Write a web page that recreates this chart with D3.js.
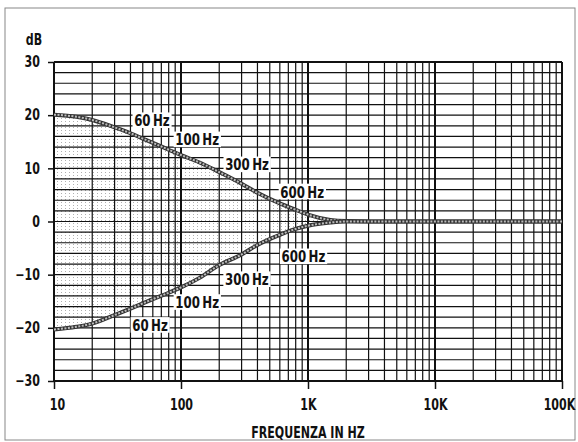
<!DOCTYPE html>
<html>
<head>
<meta charset="utf-8">
<script src="https://cdn.jsdelivr.net/npm/d3@7"></script>
<style>
  body { margin: 0; background: #fff; }
  svg { display: block; }
  text { font-family: "DejaVu Sans Condensed", "Liberation Sans Narrow", sans-serif; font-weight: bold; fill: #111; }
</style>
</head>
<body>
<svg id="chart" width="578" height="442"></svg>
<script>
// ---- data ----
const freqs = [10, 15, 20, 30, 40, 50, 60, 80, 100, 140, 200, 300, 400, 600, 800, 1000, 1500, 2000, 5000, 10000, 20000, 50000, 100000];
const boostDb = [20.1, 19.7, 19.1, 17.7, 16.6, 15.6, 14.8, 13.5, 12.5, 11.1, 9.3, 7.1, 5.4, 3.4, 2.2, 1.3, 0.3, 0.1, 0, 0, 0, 0, 0];
const cutDb = [-20.3, -19.8, -19.2, -17.6, -16.4, -15.4, -14.6, -13.4, -12.4, -10.6, -8.2, -6.2, -4.4, -2.5, -1.4, -0.8, -0.2, 0, 0, 0, 0, 0, 0];
const yTicks = [30, 20, 10, 0, -10, -20, -30];
const yTickLabels = ["30", "20", "10", "0", "\u221210", "\u221220", "\u221230"];
const xTicks = [10, 100, 1000, 10000, 100000];
const xTickLabels = ["10", "100", "1K", "10K", "100K"];
const noteText = ["60Hz", "100Hz", "300Hz", "600Hz", "600Hz", "300Hz", "100Hz", "60Hz"];
const noteFreq = [59, 134, 331, 900, 920, 330, 134, 57];
const noteDb = [19, 15.4, 10.7, 5.6, -6.6, -10.9, -15.2, -19.5];

// ---- chart ----
const svg = d3.select("#chart");
const x = d3.scaleLog().domain([10, 100000]).range([54, 562]);
const y = d3.scaleLinear().domain([-30, 30]).range([381, 62]);
const SX = 0.82; // horizontal squeeze to mimic the tall condensed lettering

// page border
svg.append("rect").attr("x", 5).attr("y", 8).attr("width", 570).attr("height", 432)
  .attr("fill", "none").attr("stroke", "#888").attr("stroke-width", 1);

// stipple pattern
const defs = svg.append("defs");
const pat = defs.append("pattern").attr("id", "dots").attr("patternUnits", "userSpaceOnUse")
  .attr("width", 4).attr("height", 3);
pat.append("rect").attr("x", 1).attr("y", 1).attr("width", 1).attr("height", 1).attr("fill", "#b0b0b0");

// stippled area between curves
const pts = freqs.map((f, i) => ({ f, hi: boostDb[i], lo: cutDb[i] }));
const area = d3.area().x(d => x(d.f)).y0(d => y(d.lo)).y1(d => y(d.hi)).curve(d3.curveMonotoneX);
svg.append("path").datum(pts.filter(d => d.f <= 2000)).attr("d", area).attr("fill", "url(#dots)");

// grid
const minor = [];
for (let dec = 10; dec < 100000; dec *= 10) for (let m = 1; m < 10; m++) minor.push(dec * m);
minor.push(100000);
svg.append("g").selectAll("line").data(minor).join("line")
  .attr("x1", d => x(d)).attr("x2", d => x(d)).attr("y1", y(30)).attr("y2", y(-30))
  .attr("stroke", "#111").attr("stroke-width", d => xTicks.includes(d) ? 2 : 1.2);
svg.append("g").selectAll("line").data(d3.range(-30, 31, 2)).join("line")
  .attr("x1", x(10)).attr("x2", x(100000)).attr("y1", d => y(d)).attr("y2", d => y(d))
  .attr("stroke", "#111").attr("stroke-width", d => (d === 30 || d === -30) ? 2 : 1.2);

// axes
const yAxis = svg.append("g").attr("transform", `translate(${x(10)},0)`)
  .call(d3.axisLeft(y).tickValues(yTicks).tickSize(6).tickPadding(0).tickFormat((d, i) => yTickLabels[i]));
yAxis.select(".domain").remove();
yAxis.selectAll("line").attr("stroke", "#111").attr("stroke-width", 1.5);
yAxis.selectAll("text").attr("font-size", 15).attr("fill", "#111").attr("x", null)
  .attr("transform", `translate(-14,0) scale(${SX},1)`)
  .style("font-family", '"DejaVu Sans Condensed", sans-serif').style("font-weight", "bold");

const xAxis = svg.append("g").attr("transform", `translate(0,${y(-30)})`)
  .call(d3.axisBottom(x).tickValues(xTicks).tickSize(8).tickPadding(10).tickFormat((d, i) => xTickLabels[i]));
xAxis.select(".domain").remove();
xAxis.selectAll("line").attr("stroke", "#111").attr("stroke-width", 1.5);
xAxis.selectAll("text").attr("font-size", 15).attr("fill", "#111")
  .attr("transform", (d, i) => `translate(${i === 0 ? 3 : (i === 4 ? -3 : 0)},0) scale(${SX},1)`)
  .style("font-family", '"DejaVu Sans Condensed", sans-serif').style("font-weight", "bold");

// curves (hatched band look)
const line = d3.line().x(d => x(d.f)).curve(d3.curveMonotoneX);
[boostDb, cutDb].forEach(arr => {
  const data = freqs.map((f, i) => ({ f, v: arr[i] }));
  const l = line.y(d => y(d.v));
  svg.append("path").datum(data).attr("d", l).attr("fill", "none")
    .attr("stroke", "#333").attr("stroke-width", 4);
  svg.append("path").datum(data).attr("d", l).attr("fill", "none")
    .attr("stroke", "#bbb").attr("stroke-width", 2).attr("stroke-dasharray", "2,1.5");
});

// annotation labels
const notes = svg.append("g");
noteText.forEach((t, i) => {
  const g = notes.append("g").attr("transform", `translate(${x(noteFreq[i])},${y(noteDb[i])})`);
  const txt = g.append("text").attr("text-anchor", "middle").attr("dy", "0.36em")
    .attr("font-size", 16).attr("transform", `scale(${SX},1)`).text(t.replace("Hz", "\u2009Hz"));
  const bb = txt.node().getBBox();
  g.insert("rect", "text").attr("x", (bb.x - 2) * SX).attr("y", bb.y + 1.5).attr("width", (bb.width + 4) * SX).attr("height", bb.height - 3)
    .attr("fill", "#fff");
});

// titles
svg.append("text").attr("transform", `translate(34,45) scale(${SX},1)`).attr("text-anchor", "middle").attr("font-size", 15).text("dB");
svg.append("text").attr("transform", `translate(308,438) scale(${SX},1)`).attr("text-anchor", "middle").attr("font-size", 15).text("FREQUENZA IN HZ");
</script>
</body>
</html>
